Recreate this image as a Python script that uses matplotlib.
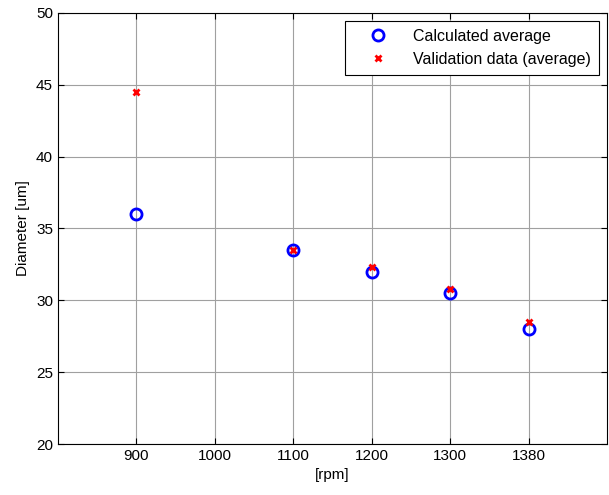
import numpy as np
import matplotlib.pyplot as plt

plt.rcParams['font.family'] = ['Liberation Sans', 'DejaVu Sans']

# rpm labels (plotted at equal spacing)
rpm_labels = ['900', '1000', '1100', '1200', '1300', '1380']
calc_rpm = ['900', '1100', '1200', '1300', '1380']
calc_avg = [36.0, 33.5, 32.0, 30.5, 28.0]
val_rpm = ['900', '1100', '1200', '1300', '1380']
val_avg = [44.5, 33.5, 32.3, 30.8, 28.5]

pos = {lab: i + 1 for i, lab in enumerate(rpm_labels)}

fig = plt.figure(figsize=(6.09, 4.95), dpi=100)
ax = fig.add_axes([0.095, 0.103, 0.902, 0.871])

ax.plot([pos[r] for r in calc_rpm], calc_avg, 'o', mfc='none', mec='#0000ff',
        mew=2, ms=8, ls='none', label='Calculated average')
ax.plot([pos[r] for r in val_rpm], val_avg, 'x', color='#ff0000',
        mew=2, ms=4, ls='none', label='Validation data (average)')

ax.set_xlim(0, 7)
ax.set_ylim(20, 50)
ax.set_xticks(range(1, 7))
ax.set_xticklabels(rpm_labels)
ax.set_yticks(np.arange(20, 51, 5))
ax.tick_params(direction='in', top=True, right=True, labelsize=11, length=4)
ax.grid(True, color='#a0a0a0', lw=0.8)
ax.set_axisbelow(True)

ax.set_xlabel('[rpm]', fontsize=11)
ax.set_ylabel('Diameter [um]', fontsize=11)

leg = ax.legend(loc='upper right', fontsize=11.5, fancybox=False, framealpha=1,
                edgecolor='black', borderaxespad=0.5, handlelength=3.2,
                handletextpad=0.6, borderpad=0.5)
leg.get_frame().set_linewidth(0.8)

fig.savefig('out.png', dpi=100)
